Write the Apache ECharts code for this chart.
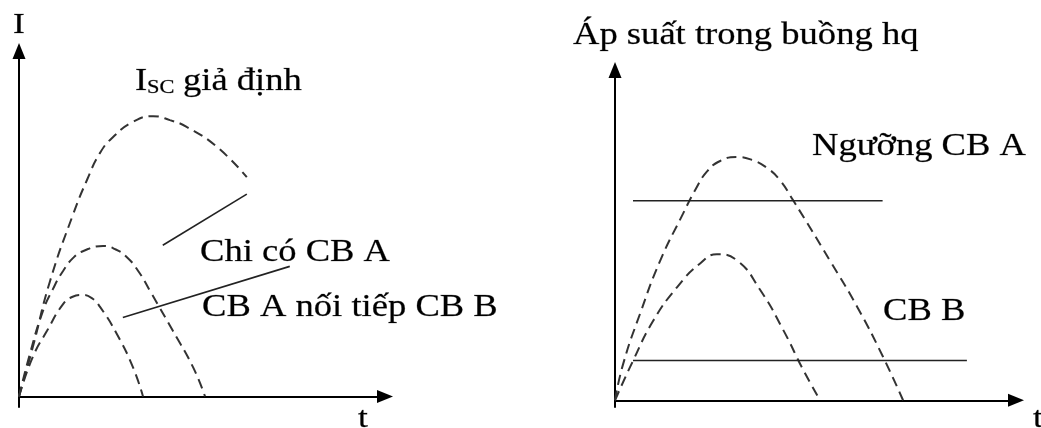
<!DOCTYPE html>
<html lang="vi">
<head>
	<meta charset="UTF-8">
	<title>Dòng ngắn mạch và áp suất buồng hồ quang</title>
	<style type="text/css">
		html,body{
			padding: 0;
			margin: 0;
			background: #fff;
		}
		#main{
			width: 1041px;
			height: 428px;
		}
	</style>
</head>
<body>
	<div id="main"></div>
<script type="text/javascript" src="https://cdn.jsdelivr.net/npm/echarts@6/dist/echarts.min.js"></script>
<script type="text/javascript">
	// do thi trai: dong dien I theo t
	var iscGiaDinh = [[0,0],[3.7,14],[8.3,32.7],[14.5,51.7],[18.2,61.4],[21.7,69.1],[25.2,73.6],[30.5,77.9],[35.9,79.5],[40.4,78.4],[45,76.4],[53,70.8],[61,62.2]];
	var chiCoCbA = [[0,0],[2.9,12],[6.4,24.2],[9.1,30.5],[11.8,35.6],[14.5,39.3],[17.1,41.2],[22.5,42.7],[25.7,41.8],[28.9,39.5],[32.1,35.3],[35.1,29.9],[41.2,18.6],[46.6,8.3],[49.8,0]];
	var cbANoiTiepB = [[0,0],[3.7,11.2],[7.5,18.6],[11.8,26.2],[14.2,28.2],[16.9,28.8],[19.5,27.9],[21.7,25.4],[26.2,17.7],[30.5,8.3],[33.2,0]];
	var chiDan1 = [[38.5,42.9],[61,57.4]];
	var chiDan2 = [[27.8,22.4],[72.5,36.9]];

	// do thi phai: ap suat trong buong hq
	var apSuatLon = [[0,0],[2,10.8],[6.1,25.6],[11,41.3],[16.6,55.3],[19.6,62.4],[22.5,67.9],[25.7,71],[29.8,72.2],[33.5,71.3],[37.2,68.9],[40.3,65.3],[43.5,59.4],[52.6,41.3],[59.2,27.7],[65.5,12.9],[70.4,0]];
	var apSuatNho = [[0,0],[4.4,11.7],[9.3,23.5],[15.2,33.6],[20.8,40.6],[24.9,43.3],[29.8,41.5],[35.5,32.7],[41.1,20.9],[46,9],[50.1,0]];
	var nguongA = [[4.4,59.2],[65.4,59.2]];
	var nguongB = [[4.4,11.8],[86,11.8]];

	var myChart = echarts.init(document.getElementById('main'));

	function chu(text, x, baseline, size){
		return {
			type: 'text',
			x: x,
			y: baseline - size * 0.25,
			scaleX: 1.18,
			style: {
				text: text,
				fontSize: size,
				fontFamily: 'Liberation Serif',
				fill: '#000',
				stroke: 'rgba(0,0,0,0.45)',
				lineWidth: 0.5,
				align: 'left',
				verticalAlign: 'middle'
			}
		};
	}

	function truc(gridIndex, min, max){
		return {
			type: 'value',
			gridIndex: gridIndex,
			min: min,
			max: max,
			axisLine: {
				show: true,
				onZero: true,
				symbol: ['none', 'triangle'],
				symbolSize: [13, 16],
				lineStyle: {color: '#000', width: 2}
			},
			axisTick: {show: false},
			axisLabel: {show: false},
			splitLine: {show: false}
		};
	}

	function netDut(data, xi){
		return {
			type: 'line',
			xAxisIndex: xi,
			yAxisIndex: xi,
			data: data,
			smooth: 0.5,
			symbol: 'none',
			silent: true,
			lineStyle: {color: '#333', width: 2, type: [10, 6]}
		};
	}

	function netLien(data, xi){
		return {
			type: 'line',
			xAxisIndex: xi,
			yAxisIndex: xi,
			data: data,
			symbol: 'none',
			silent: true,
			lineStyle: {color: '#222', width: 1.6}
		};
	}

	myChart.setOption({
		animation: false,
		backgroundColor: '#fff',
		grid: [
			{left: 19, top: 51, width: 366, height: 356},
			{left: 615, top: 70, width: 401, height: 337}
		],
		xAxis: [truc(0, 0, 98), truc(1, 0, 98)],
		yAxis: [truc(0, -3, 98), truc(1, -2, 98)],
		series: [
			netDut(iscGiaDinh, 0),
			netDut(chiCoCbA, 0),
			netDut(cbANoiTiepB, 0),
			netLien(chiDan1, 0),
			netLien(chiDan2, 0),
			netDut(apSuatLon, 1),
			netDut(apSuatNho, 1),
			netLien(nguongA, 1),
			netLien(nguongB, 1)
		],
		graphic: [
			chu('I', 13, 33, 30),
			chu('t', 358, 427, 30),
			chu('t', 1033, 427, 30),
			chu('I', 135, 90, 31),
			chu('SC', 147, 93, 19),
			chu('giả định', 183, 90, 31),
			chu('Chi có CB A', 200, 261, 31),
			chu('CB A nối tiếp CB B', 202, 316, 31),
			chu('Áp suất trong buồng hq', 573, 44, 31),
			chu('Ngưỡng CB A', 812, 155, 31),
			chu('CB B', 883, 320, 31)
		]
	});
</script>
</body>
</html>
